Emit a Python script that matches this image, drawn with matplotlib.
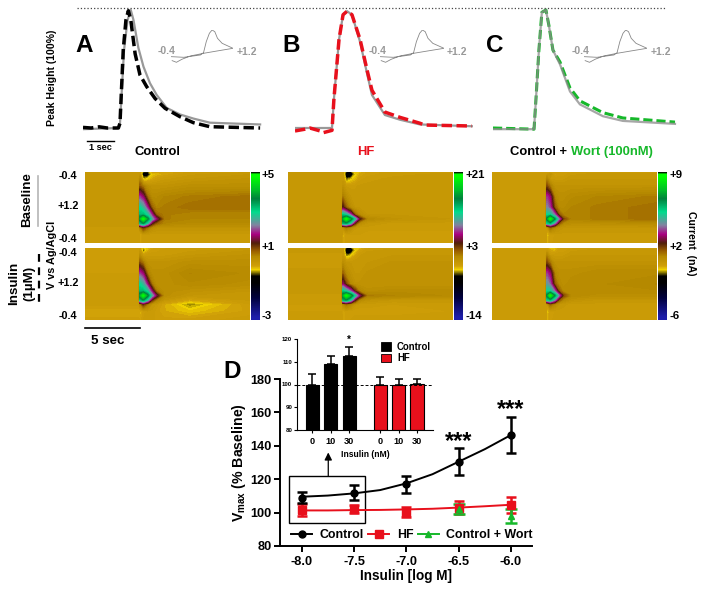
import numpy as np
import matplotlib
matplotlib.use("Agg")
import matplotlib.pyplot as plt
from matplotlib.cm import ScalarMappable
from matplotlib.colors import LinearSegmentedColormap, Normalize
from matplotlib.lines import Line2D
from matplotlib.patches import Rectangle

W, H = 704, 594
plt.rcParams['font.family'] = ['Liberation Sans', 'DejaVu Sans']
plt.rcParams['font.weight'] = 'bold'
plt.rcParams['axes.labelweight'] = 'bold'
plt.rcParams['mathtext.fontset'] = 'custom'
plt.rcParams['mathtext.bf'] = 'Liberation Sans:bold'

RED = '#e8101c'
GREEN = '#16b82a'
GRAY = '#999999'

# --- normalised peak traces (time in s, height in %)
a_t_dash = [0, 0.3, 0.6, 0.9, 1.31, 1.37, 1.49, 1.59, 1.68, 1.77, 1.93, 2.11, 2.36, 2.67, 3.04, 3.59, 4.09, 4.7, 6.56]
a_v_dash = [0.5, 0, 1, 0, 0, 4, 66, 91.5, 99.4, 91.5, 63, 45, 35, 25, 16.7, 9.6, 4.5, 1.1, 0]
a_t_gray = [0, 1.31, 1.37, 1.52, 1.65, 1.77, 1.87, 2.05, 2.24, 2.48, 2.73, 3.1, 3.59, 4.09, 4.7, 6.56]
a_v_gray = [-1, 0, 4, 66, 91.5, 100, 91.5, 68, 52, 38, 28, 17, 11.5, 8, 4.5, 3]

b_t_dash = [0, 0.37, 0.55, 0.93, 1.04, 1.37, 1.44, 1.63, 1.78, 1.93, 2.11, 2.41, 2.67, 2.85, 3.33, 3.89, 4.63, 4.8, 6.55]
b_v_dash = [-2.5, -1, 0, -2.5, -4, -2, 24, 75, 96, 99, 96, 75, 49, 32, 13.5, 9, 4, 2.5, 1.7]
b_t_gray = [0, 1.37, 1.44, 1.63, 1.78, 1.93, 2.11, 2.41, 2.67, 2.85, 3.33, 3.89, 4.63, 6.55]
b_v_gray = [0, 0, 24, 75, 96, 99, 96, 73, 46, 28, 11, 7, 3, 1.5]

c_t_dash = [0, 1.52, 1.59, 1.7, 1.81, 1.96, 2.07, 2.22, 2.48, 2.85, 3.22, 4.07, 4.81, 6.74]
c_v_dash = [0, -1, 24, 66, 98, 100, 87, 66, 56, 34, 23, 13, 8.5, 5]
c_t_gray = [0, 1.52, 1.59, 1.7, 1.81, 1.96, 2.07, 2.22, 2.48, 2.85, 3.22, 4.07, 4.81, 6.74]
c_v_gray = [-1, -1, 24, 66, 98, 100, 87, 66, 54, 31, 20, 10, 6, 3.5]

# --- background subtracted voltammogram for the small insets
cv_volt = [-0.4, -0.07, 0.36, 0.44, 0.51, 0.59, 0.66, 0.73, 0.8, 0.92, 1.2, 0.79, 0.44, 0.1, -0.12, -0.26, -0.37]
cv_curr = [0.2, 0.18, 0.25, 0.32, 0.65, 0.9, 1.0, 0.95, 0.75, 0.6, 0.45, 0.37, 0.3, 0.22, 0.12, 0.03, 0.08]

# --- colour plots, values are position on the colour scale (0 bottom, 1 top)
cp_time = [0, 4.9, 5.0, 5.3, 5.7, 6.1, 6.5, 7.2, 9.5, 15]
cp_scan = [0, .03, .1, .2, .35, .5, .6, .66, .72, .78, .88, 1]

a_base = [
    [.38, .38, .38, .30, .30, .36, .36, .36, .38, .38],
    [.39, .39, .39, .27, .27, .34, .35, .36, .38, .39],
    [.39, .39, .42, .33, .34, .36, .37, .38, .39, .40],
    [.39, .39, .47, .44, .41, .40, .40, .40, .41, .41],
    [.39, .39, .60, .56, .45, .42, .42, .43, .44, .45],
    [.39, .39, .72, .68, .58, .46, .43, .44, .45, .45],
    [.39, .39, .76, .76, .70, .58, .46, .44, .43, .43],
    [.39, .39, .85, .97, .82, .66, .56, .44, .43, .43],
    [.39, .39, .74, .80, .68, .52, .46, .43, .42, .42],
    [.38, .38, .43, .50, .45, .41, .40, .40, .40, .40],
    [.38, .38, .35, .38, .38, .38, .38, .38, .38, .38],
    [.38, .38, .36, .38, .38, .38, .38, .38, .38, .38],
]
a_insulin = [
    [.37, .37, .37, .33, .35, .36, .37, .37, .38, .38],
    [.37, .37, .38, .30, .35, .37, .37, .38, .38, .39],
    [.37, .37, .41, .37, .38, .38, .38, .38, .39, .40],
    [.375, .375, .47, .44, .40, .40, .40, .40, .41, .41],
    [.375, .375, .60, .56, .44, .41, .41, .41, .43, .42],
    [.38, .38, .72, .68, .56, .44, .41, .41, .42, .41],
    [.38, .38, .76, .76, .70, .56, .44, .41, .40, .39],
    [.38, .38, .85, .97, .82, .66, .54, .41, .39, .39],
    [.38, .38, .74, .80, .68, .50, .43, .39, .36, .385],
    [.38, .38, .42, .50, .44, .39, .38, .36, .32, .375],
    [.36, .36, .35, .37, .38, .38, .37, .36, .345, .37],
    [.37, .37, .36, .375, .38, .38, .37, .37, .37, .38],
]
b_base = [
    [.385, .385, .385, .29, .29, .35, .35, .37, .38, .38],
    [.385, .385, .385, .25, .25, .33, .36, .37, .38, .385],
    [.385, .385, .385, .31, .33, .35, .37, .38, .385, .385],
    [.385, .385, .40, .38, .38, .38, .385, .385, .39, .39],
    [.385, .385, .44, .41, .39, .39, .39, .39, .39, .39],
    [.385, .385, .52, .46, .41, .39, .39, .39, .39, .39],
    [.385, .385, .74, .70, .60, .46, .41, .39, .39, .39],
    [.385, .385, .85, .97, .84, .68, .52, .42, .40, .39],
    [.385, .385, .76, .78, .68, .50, .41, .39, .38, .38],
    [.385, .385, .40, .44, .41, .385, .38, .38, .38, .38],
    [.385, .385, .35, .37, .375, .375, .375, .37, .37, .37],
    [.385, .385, .36, .37, .375, .375, .375, .37, .37, .37],
]
b_insulin = [
    [.38, .38, .38, .29, .29, .35, .35, .37, .38, .38],
    [.385, .385, .385, .25, .25, .33, .36, .38, .385, .385],
    [.38, .38, .385, .31, .33, .36, .38, .39, .39, .39],
    [.38, .38, .41, .39, .39, .39, .39, .39, .40, .40],
    [.385, .385, .46, .42, .40, .39, .39, .40, .40, .40],
    [.385, .385, .56, .48, .42, .40, .40, .40, .40, .40],
    [.385, .385, .74, .70, .62, .50, .43, .41, .42, .42],
    [.38, .38, .85, .97, .86, .70, .56, .44, .43, .42],
    [.38, .38, .76, .80, .70, .52, .42, .40, .39, .39],
    [.375, .375, .41, .45, .42, .385, .38, .38, .375, .38],
    [.375, .375, .36, .37, .37, .37, .37, .37, .37, .375],
    [.38, .38, .36, .37, .375, .38, .38, .38, .38, .38],
]
c_base = [
    [.37, .37, .36, .36, .37, .37, .37, .37, .38, .38],
    [.38, .38, .38, .40, .36, .37, .37, .38, .385, .385],
    [.38, .38, .43, .38, .38, .38, .38, .39, .39, .39],
    [.38, .38, .48, .44, .40, .40, .40, .40, .40, .40],
    [.38, .38, .60, .56, .43, .41, .41, .42, .43, .44],
    [.38, .38, .64, .60, .47, .42, .42, .43, .44, .45],
    [.38, .38, .72, .72, .62, .47, .43, .43, .44, .45],
    [.38, .38, .82, .97, .80, .62, .48, .43, .44, .45],
    [.38, .38, .72, .76, .64, .47, .42, .41, .41, .42],
    [.38, .38, .38, .46, .42, .40, .39, .39, .39, .39],
    [.38, .38, .34, .37, .375, .38, .38, .38, .38, .38],
    [.38, .38, .35, .37, .38, .38, .38, .38, .38, .38],
]
c_insulin = [
    [.37, .37, .36, .34, .35, .36, .37, .37, .38, .38],
    [.38, .38, .38, .36, .35, .37, .37, .38, .385, .385],
    [.38, .38, .43, .38, .38, .38, .38, .39, .39, .39],
    [.38, .38, .48, .44, .40, .40, .40, .40, .40, .40],
    [.38, .38, .60, .56, .43, .41, .41, .41, .42, .42],
    [.38, .38, .66, .62, .47, .42, .41, .42, .42, .43],
    [.38, .38, .72, .72, .62, .47, .42, .42, .42, .42],
    [.38, .38, .82, .97, .80, .62, .48, .42, .41, .41],
    [.38, .38, .72, .76, .64, .47, .42, .40, .39, .39],
    [.38, .38, .38, .46, .42, .39, .385, .38, .38, .38],
    [.38, .38, .34, .37, .375, .38, .38, .38, .38, .38],
    [.38, .38, .35, .37, .38, .38, .38, .38, .38, .38],
]

cb_stops = [0.0, .02, .15, .25, .295, .34, .365, .43, .47, .52, .58, .64, .73, .82, .88, .97, .985, 1.0]
cb_colors = ['#1e1eaa', '#1e1eaa', '#00003c', '#000000', '#000000', '#f0d200', '#d0a008', '#b48800', '#965a00',
             '#501e0a', '#aa0082', '#8282a0', '#00dc8c', '#00823c', '#00be28', '#00ff00', '#00ff00', '#000000']
cb_labels_a = ['+5', '+1', '-3']
cb_labels_b = ['+21', '+3', '-14']
cb_labels_c = ['+9', '+2', '-6']

# --- dose response, panel D
log_dose = [-8.0, -7.5, -7.0, -6.5, -6.0]
control_mean = [109, 112, 117, 130.5, 146.5]
control_sem = [3.5, 4.5, 5, 8, 11]
hf_mean = [101.5, 102, 100.5, 103, 104.5]
hf_sem = [3.5, 2.5, 3, 4, 5]
wort_dose = [-6.5, -6.0]
wort_mean = [102, 98]
wort_sem = [3, 4]
fit_dose = [-8, -7.75, -7.5, -7.25, -7, -6.75, -6.5, -6.25, -6]
control_fit = [109.5, 110.2, 111.5, 113.5, 117.5, 123, 130.5, 138, 146.5]
hf_fit = [101.3, 101.3, 101.5, 101.6, 101.9, 102.3, 103, 103.8, 104.7]

bar_labels = ['0', '10', '30', '0', '10', '30']
bar_x = [0, 1, 2, 3.68, 4.68, 5.68]
bar_vals = [100, 109, 112.5, 100, 100, 100.3]
bar_err = [4.8, 3.4, 4, 3.3, 2.3, 2.3]
bar_cols = ['black', 'black', 'black', RED, RED, RED]

fig = plt.figure(figsize=(W / 100, H / 100), dpi=100)


def px_axes(x0, y0, x1, y1, **kw):
    return fig.add_axes([x0 / W, 1 - y1 / H, (x1 - x0) / W, (y1 - y0) / H], **kw)


# overlay in pixel units for labels
ov = px_axes(0, 0, W, H, zorder=10)
ov.set_xlim(0, W)
ov.set_ylim(H, 0)
ov.axis('off')


def label(x, y, s, size=9, color='black', ha='center', rot=0, **kw):
    ov.text(x, y, s, fontsize=size, color=color, ha=ha, va='center', rotation=rot,
            rotation_mode='anchor' if rot == 0 else 'default', **kw)


# top traces
ov.plot([77, 666], [8, 8], ':', color='#444444', lw=0.9)
traces = [
    (83, a_t_gray, a_v_gray, a_t_dash, a_v_dash, 'black'),
    (295, b_t_gray, b_v_gray, b_t_dash, b_v_dash, RED),
    (493, c_t_gray, c_v_gray, c_t_dash, c_v_dash, GREEN),
]
for x0, tg, vg, td, vd, col in traces:
    ax = px_axes(x0, 4.1, x0 + 189, 139.8)
    ax.set_xlim(0, 7)
    ax.set_ylim(-10, 105)
    ax.axis('off')
    if col == GREEN:
        ax.plot(td, vd, color=col, lw=2.2, dashes=(3, 1.3), dash_joinstyle='round')
        ax.plot(tg, vg, color='#8a8a8a', lw=1.6, alpha=0.75, solid_joinstyle='round')
    else:
        ax.plot(tg, vg, color=GRAY, lw=1.6, solid_joinstyle='round')
        ax.plot(td, vd, color=col, lw=2.5, dashes=(3, 1.3), dash_joinstyle='round')

for x0, x1, xl, xr in [(171, 233, 167, 247), (380, 444, 378, 457), (584, 647, 581, 661)]:
    ax = px_axes(x0, 30, x1, 63.3)
    ax.set_xlim(-0.4, 1.2)
    ax.set_ylim(0, 1)
    ax.axis('off')
    ax.plot(cv_volt, cv_curr, color='#888888', lw=0.6)
    label(xl, 51, '-0.4', 7.5, GRAY)
    label(xr, 52, '+1.2', 7.5, GRAY)

label(84, 45, 'A', 17.5)
label(291, 45, 'B', 17.5)
label(495, 45, 'C', 17.5)
label(232, 371, 'D', 17.5)
label(52, 78, 'Peak Height (100%)', 7.6, rot=90)
ov.plot([87, 114], [140.5, 140.5], color='black', lw=1)
label(100, 148, '1 sec', 6.6)
label(157, 152, 'Control', 9.4)
label(366, 152, 'HF', 9.4, RED)
label(510, 152, 'Control + ', 9.4, ha='left')
label(571, 152, 'Wort (100nM)', 9.4, GREEN, ha='left')

# colour plots
cmap = LinearSegmentedColormap.from_list('fscv', list(zip(cb_stops, cb_colors)), N=512)
levels = np.linspace(0, 1, 129)
panels = [
    (85, a_base, a_insulin, cb_labels_a),
    (288, b_base, b_insulin, cb_labels_b),
    (492, c_base, c_insulin, cb_labels_c),
]
for x0, base, insulin, cb_labels in panels:
    for (y0, y1), table in zip([(172, 243), (248, 320)], [base, insulin]):
        ax = px_axes(x0, y0, x0 + 165, y1)
        ax.contourf(cp_time, cp_scan, table, levels=levels, cmap=cmap, antialiased=False)
        ax.set_ylim(1, 0)
        ax.axis('off')
    cax = px_axes(x0 + 166, 172, x0 + 175, 320)
    cb = fig.colorbar(ScalarMappable(norm=Normalize(0, 1), cmap=cmap), cax=cax)
    cb.set_ticks([])
    cb.outline.set_visible(False)
    for y, s in zip([175, 247, 316], cb_labels):
        label(x0 + 177, y, s, 8.2, ha='left')

for y, s in zip([176, 206, 239, 253, 283, 316], ['-0.4', '+1.2', '-0.4', '-0.4', '+1.2', '-0.4']):
    label(68, y, s, 7.8)
label(27, 200, 'Baseline', 9.6, rot=90)
ov.plot([38, 38], [176, 226], color='#b5b5b5', lw=1.2)
label(14, 283, 'Insulin', 9.6, rot=90)
label(29, 283, '(1µM)', 9.6, rot=90)
ov.plot([39, 39], [254, 305], color='black', lw=1.6, dashes=(3.5, 2.5))
label(52, 255, 'V vs Ag/AgCl', 7.8, rot=90)
label(691, 243, 'Current  (nA)', 7.6, rot=270)
ov.plot([85, 140], [328, 328], color='black', lw=1.2)
label(108, 341, '5 sec', 9.6)

# panel D, main dose response
ax = px_axes(280, 379, 532, 546)
ax.set_xlim(-8.207, -5.80)
ax.set_ylim(80, 180)
ax.plot(fit_dose, hf_fit, color=RED, lw=1.4)
ax.errorbar(log_dose, hf_mean, yerr=hf_sem, fmt='s', color=RED, ms=5.5, elinewidth=1.8, capsize=3.5, capthick=1.8)
ax.errorbar(wort_dose, wort_mean, yerr=wort_sem, fmt='^', color=GREEN, ms=4.5, elinewidth=1.8, capsize=4, capthick=1.8)
ax.plot(fit_dose, control_fit, color='black', lw=1.4)
ax.errorbar(log_dose, control_mean, yerr=control_sem, fmt='o', color='black', ms=5, elinewidth=1.8, capsize=3.5, capthick=1.8)
for x, y in [(-6.5, 142.5), (-6.0, 161.5)]:
    ax.text(x, y, '***', fontsize=17, ha='center', va='center')
ax.add_patch(Rectangle((-8.12, 93.8), 0.725, 28.2, fill=False, ec='black', lw=1))
ax.annotate('', xy=(-7.746, 136), xytext=(-7.746, 122),
            arrowprops=dict(arrowstyle='-|>', color='black', lw=0.9, mutation_scale=11, shrinkA=0, shrinkB=0))
for side in ['top', 'right']:
    ax.spines[side].set_visible(False)
for side in ['left', 'bottom']:
    ax.spines[side].set_linewidth(1.4)
ax.set_xticks(log_dose)
ax.set_xticklabels(['-8.0', '-7.5', '-7.0', '-6.5', '-6.0'])
ax.set_yticks([80, 100, 120, 140, 160, 180])
ax.tick_params(width=1.4, length=4, labelsize=9.2, pad=2)
ax.tick_params(axis='x', pad=3)
ax.set_xlabel('Insulin [log M]', fontsize=9.8, labelpad=1)
ax.set_ylabel(r'$\mathbf{V_{max}}$ (% Baseline)', fontsize=10.2, labelpad=2)
handles = [
    Line2D([], [], color='black', marker='o', ms=5, lw=1.4),
    Line2D([], [], color=RED, marker='s', ms=5.5, lw=1.4),
    Line2D([], [], color=GREEN, marker='^', ms=5, lw=1.4),
]
ax.legend(handles, ['Control', 'HF', 'Control + Wort'], ncol=3, frameon=False, fontsize=8.9,
          loc='lower left', bbox_to_anchor=(0.045, 0.03), borderpad=0, borderaxespad=0,
          handlelength=1.7, handletextpad=0.6, columnspacing=0.35)

# panel D, bar inset
ins = px_axes(296.7, 339, 433, 430, zorder=5)
ins.patch.set_alpha(0)
ins.set_xlim(-0.85, 6.54)
ins.set_ylim(80, 120)
ins.bar(bar_x, np.array(bar_vals) - 80, width=0.72, bottom=80, color=bar_cols, edgecolor='black', lw=0.8)
ins.errorbar(bar_x, bar_vals, yerr=[[0] * 6, bar_err], fmt='none', ecolor='black', elinewidth=1.1, capsize=2.6, capthick=1.1)
ins.axhline(100, color='black', lw=0.7, dashes=(3, 2), zorder=4)
ins.text(2, 119.8, '*', fontsize=7, ha='center', va='center')
for side in ['top', 'right']:
    ins.spines[side].set_visible(False)
ins.spines['left'].set_linewidth(0.8)
ins.spines['bottom'].set_linewidth(0.8)
ins.set_xticks(bar_x)
ins.set_xticklabels(bar_labels)
ins.set_yticks([80, 90, 100, 110, 120])
ins.tick_params(axis='x', width=0.8, length=2.5, labelsize=6.6, pad=2.5)
ins.tick_params(axis='y', width=0.8, length=2.2, labelsize=4.4, pad=1)
ins.set_xlabel('Insulin (nM)', fontsize=6.2, labelpad=3)
ov.add_patch(Rectangle((381, 342), 10, 9, fc='black', ec='black', lw=0.6))
ov.add_patch(Rectangle((381, 354), 10, 8, fc=RED, ec='black', lw=0.6))
label(397, 347, 'Control', 6.9, ha='left')
label(397, 358, 'HF', 6.9, ha='left')

plt.savefig('out.png', dpi=100)
